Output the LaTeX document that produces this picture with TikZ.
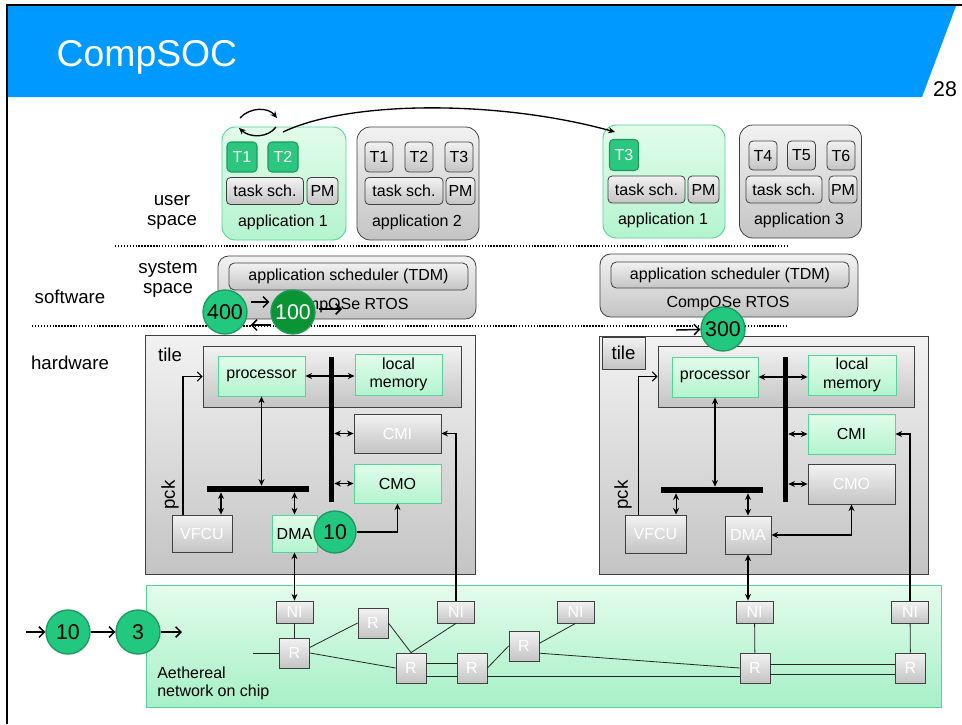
\documentclass[tikz,border=0pt]{standalone}
\usepackage{fontspec}
\setmainfont{Liberation Sans}
\usetikzlibrary{arrows.meta,calc}

\definecolor{slideblue}{HTML}{0099FF}
\definecolor{greentop}{HTML}{E2FCEA}
\definecolor{greenbot}{HTML}{B4F4CF}
\definecolor{noctop}{HTML}{E4FCEC}
\definecolor{nocbot}{HTML}{A6F0C6}
\definecolor{linegreen}{HTML}{55D398}
\definecolor{graytop}{HTML}{F2F2F2}
\definecolor{graybot}{HTML}{C4C4C4}
\definecolor{taskgreen}{HTML}{2BC77E}
\definecolor{taskline}{HTML}{1E9960}
\definecolor{circgreen}{HTML}{22C87F}
\definecolor{circline}{HTML}{1D9A5E}
\definecolor{darkgreen}{HTML}{0B9433}

\tikzset{
  sz/.style 2 args={minimum width=#1*0.75pt, minimum height=#2*0.75pt, inner sep=0pt},
  grnbox/.style={draw=linegreen, line width=0.7pt, top color=greentop, bottom color=greenbot},
  grybox/.style={draw=black!75, line width=0.6pt, top color=graytop, bottom color=graybot},
  pale/.style={grybox, text=white},
  task/.style={draw=taskline, fill=taskgreen, text=white, rounded corners=3pt, line width=0.8pt},
  gtask/.style={grybox, rounded corners=3pt},
  app/.style={rounded corners=10pt, line width=0.8pt},
  circ/.style={circle, draw=circline, fill=circgreen, line width=1pt, minimum size=33pt,
    inner sep=0pt, font=\fontsize{16}{18}\selectfont},
  bar/.style={fill=black, inner sep=0pt},
  hw/.style={{Stealth[length=5pt,width=4.5pt]}-{Stealth[length=5pt,width=4.5pt]}, line width=0.8pt},
  hwa/.style={-{Stealth[length=5pt,width=4.5pt]}, line width=0.8pt},
  pckarrow/.style={-{Straight Barb[length=3.5pt,width=7pt]}, line width=0.8pt},
  flow/.style={-{Straight Barb[length=4pt,width=8pt]}, line width=1.1pt},
  lbl/.style={font=\fontsize{14}{15}\selectfont, align=center},
  link/.style={line width=0.6pt, draw=black!85},
  sep/.style={line width=1.1pt, dash pattern=on 1.1pt off 1.1pt},
}

\begin{document}
\begin{tikzpicture}[x=0.75pt, y=-0.75pt, every node/.style={font=\fontsize{12}{14}\selectfont}]
  \useasboundingbox (0,0) rectangle (962,724);
  \fill[white] (0,0) rectangle (962,724);

  % slide frame and title bar
  \fill[slideblue] (8,6) -- (956,6) -- (922,97) -- (8,97) -- cycle;
  \draw[line width=1.5pt] (6.5,724) -- (6.5,5) -- (962,5);
  \node[anchor=west, text=white, font=\fontsize{28}{30}\selectfont] (title) at (52,57) {CompSOC};
  \node[font=\fontsize{16}{18}\selectfont] (pgno) at (945,89) {28};

  % layers
  \node[lbl] (usrlbl) at (172,212) {user\\space};
  \node[lbl] (syslbl) at (168,279) {system\\space};
  \node[lbl] (swlbl) at (70,297) {software};
  \node[lbl] (hwlbl) at (70,363) {hardware};
  \draw[sep] (115,246) -- (788,246);
  \draw[sep] (32,326) -- (786,326);

  % applications
  \node[app, grnbox, sz={124}{113}] (appA) at (284,183.5) {};
  \node[task, sz={30}{30}] (tA1) at (242,157) {T1};
  \node[task, sz={30}{30}] (tA2) at (283,157) {T2};
  \node[gtask, sz={77}{27}] (schA) at (265,191) {task sch.};
  \node[gtask, sz={31}{27}] (pmA) at (322.5,191) {PM};
  \node (lblA) at (283,222) {application 1};

  \node[app, grybox, sz={122}{113}] (appB) at (418,183.5) {};
  \foreach \t/\x in {1/379, 2/419, 3/459}
    \node[gtask, sz={28}{30}] (tB\t) at (\x,157) {T\t};
  \node[gtask, sz={78}{27}] (schB) at (404,191) {task sch.};
  \node[gtask, sz={29}{27}] (pmB) at (460.5,191) {PM};
  \node (lblB) at (417,222) {application 2};

  \node[app, grnbox, sz={122}{113}] (appC) at (664,181.5) {};
  \node[task, sz={29}{31}] (tC3) at (624,155) {T3};
  \node[gtask, sz={77}{27}] (schC) at (646.5,189.5) {task sch.};
  \node[gtask, sz={31}{27}] (pmC) at (703.5,189.5) {PM};
  \node (lblC) at (663,220) {application 1};

  \node[app, grybox, sz={122}{113}] (appD) at (800.5,181.5) {};
  \foreach \t/\x in {4/763, 5/801.5, 6/841}
    \node[gtask, sz={28}{29}] (tD\t) at (\x,155.5) {T\t};
  \node[gtask, sz={76}{27}] (schD) at (784,189.5) {task sch.};
  \node[gtask, sz={28}{27}] (pmD) at (843,189.5) {PM};
  \node (lblD) at (799,220) {application 3};

  % task swap and migration
  \coordinate (swL) at (240,118); \coordinate (swR) at (277,118);
  \coordinate (swR2) at (276,127); \coordinate (swL2) at (239,128);
  \draw[hwa, line width=1pt] (swL) .. controls (250,107) and (268,107) .. (swR);
  \draw[hwa, line width=1pt] (swR2) .. controls (268,138) and (250,138) .. (swL2);
  \coordinate (migS) at (283,132); \coordinate (migE) at (615,132);
  \draw[hwa, line width=1pt] (migS) .. controls (350,100) and (500,100) .. (migE);

  % RTOS
  \node[grybox, rounded corners=8pt, sz={258}{63}] (rtosL) at (347,287.5) {};
  \node[grybox, rounded corners=4pt, sz={239}{27}] (tdmL) at (348.5,276.5) {application scheduler (TDM)};
  \node (osL) at (347,306) {CompOSe RTOS};
  \node[grybox, rounded corners=8pt, sz={258}{63}] (rtosR) at (729,285.5) {};
  \node[grybox, rounded corners=4pt, sz={238}{26}] (tdmR) at (730,275) {application scheduler (TDM)};
  \node (osR) at (728,304) {CompOSe RTOS};

  % left tile
  \node[grybox, sz={330}{239}] (pckL) at (310,454.5) {};
  \node[lbl] (tileLlbl) at (170,355) {tile};
  \node[lbl, rotate=90] (pckLlbl) at (170,495) {pck};
  \node[grybox, sz={258}{61}] (tileL) at (332,376.5) {};
  \node[grnbox, sz={87}{40}] (procL) at (261.5,376) {processor};
  \node[grnbox, sz={87}{41}, align=center] (memL) at (398.5,374.5) {local\\memory};
  \node[bar, sz={5}{145}] (vbusL) at (331.5,429.5) {};
  \node[bar, sz={102}{6}] (hbusL) at (258,489) {};
  \node[pale, sz={87}{39}] (cmiL) at (397.5,433.5) {CMI};
  \node[grnbox, sz={87}{39}] (cmoL) at (397.5,483.5) {CMO};
  \node[pale, sz={60}{37}] (vfcuL) at (202,533.5) {VFCU};
  \node[grnbox, sz={45}{37}] (dmaL) at (294.5,533.5) {DMA};

  % right tile
  \node[grybox, sz={329}{238}] (pckR) at (763.5,455) {};
  \node[grybox, lbl, sz={43}{32}] (tileRlbl) at (623.5,353) {tile};
  \node[lbl, rotate=90] (pckRlbl) at (623,495) {pck};
  \node[grybox, sz={256}{61}] (tileR) at (786,376.5) {};
  \node[grnbox, sz={86}{40}] (procR) at (715,377) {processor};
  \node[grnbox, sz={88}{40}, align=center] (memR) at (852,375) {local\\memory};
  \node[bar, sz={5}{145}] (vbusR) at (785.5,429.5) {};
  \node[bar, sz={102}{6}] (hbusR) at (712,490) {};
  \node[grnbox, sz={87}{40}] (cmiR) at (851.5,434) {CMI};
  \node[pale, sz={87}{40}] (cmoR) at (851.5,484) {CMO};
  \node[pale, sz={61}{38}] (vfcuR) at (655.5,534) {VFCU};
  \node[pale, sz={46}{38}] (dmaR) at (748,535) {DMA};

  % network on chip
  \node[grnbox, top color=noctop, bottom color=nocbot, sz={795}{122}] (noc) at (543.5,646) {};
  \node[anchor=west, align=left, inner sep=0pt, font=\fontsize{12}{13.5}\selectfont] (noclbl) at (157,683) {Aethereal\\network on chip};
  \foreach \n/\x in {ni1/294.5, ni2/456, ni3/575.5, ni4/754.5, ni5/910}
    \node[pale, sz={37}{22}] (\n) at (\x,612) {NI};
  \foreach \n/\x/\y in {r1/294.5/653, r2/373/623, r3/411/668, r4/472/668, r5/524/646, r6/755/668, r7/910.5/668}
    \node[pale, sz={30}{30}] (\n) at (\x,\y) {R};

  % links
  \coordinate (nocin) at (253,653);
  \draw[link] (nocin) -- (r1.west);
  \draw[link] (ni1) -- (r1);
  \draw[link] (r1.20) -- (r2.west);
  \draw[link] (r1.east) -- (r3.west);
  \draw[link] (r2.east) -- (r3.north);
  \draw[link] (ni2.south) -- (r3.north);
  \draw[link] ([yshift=3.75pt]r3.east) -- ([yshift=3.75pt]r4.west);
  \draw[link] ([yshift=-6pt]r3.east) -- ([yshift=-6pt]r4.west);
  \draw[link] ([yshift=-6pt]r4.east) -- ([yshift=-6pt]r6.west);
  \draw[link] (r4.east) -- (r5.west);
  \draw[link] (r5.10) -- (ni3.south);
  \draw[link] (r5.-25) -- (r6.west);
  \draw[link] (ni4) -- (r6);
  \draw[link] (ni5) -- (r7);
  \draw[link] ([yshift=3pt]r6.east) -- ([yshift=3pt]r7.west);
  \draw[link] ([yshift=-4.5pt]r6.east) -- ([yshift=-4.5pt]r7.west);

  % tile connections, left
  \draw[hw] (procL.east) -- (memL.west |- procL.east);
  \draw[hw] (procL.south) -- (procL.south |- hbusL.north);
  \draw[hw] ([xshift=14.25pt]vfcuL.north) -- ([xshift=14.25pt]vfcuL.north |- hbusL.south);
  \draw[hw] (dmaL.north) -- (dmaL.north |- hbusL.south);
  \draw[hw] (cmiL.west -| vbusL.east) -- (cmiL.west);
  \draw[hw] (cmoL.west -| vbusL.east) -- (cmoL.west);
  \draw[pckarrow] ([xshift=-14.25pt]vfcuL.north) |- (tileL.west);
  \draw[hwa] (ni2.north) |- (cmiL.east);
  \draw[hw] (dmaL.south) -- (ni1.north);

  % tile connections, right
  \draw[hw] (procR.east) -- (memR.west |- procR.east);
  \draw[hw] (procR.south) -- (procR.south |- hbusR.north);
  \draw[hw] ([xshift=15.4pt]vfcuR.north) -- ([xshift=15.4pt]vfcuR.north |- hbusR.south);
  \draw[hw] (dmaR.north) -- (dmaR.north |- hbusR.south);
  \draw[hw] (cmiR.west -| vbusR.east) -- (cmiR.west);
  \draw[hw] (cmoR.west -| vbusR.east) -- (cmoR.west);
  \draw[pckarrow] ([xshift=-13.1pt]vfcuR.north) |- (tileR.west);
  \draw[hw] (dmaR.east) -| (cmoR.south);
  \draw[hwa] (ni5.north) |- (cmiR.east);
  \draw[hw] (dmaR.south) -- (dmaR.south |- ni4.north);

  % budgets
  \node[circ] (c400) at (225,312) {400};
  \node[circ, fill=darkgreen, text=white] (c100) at (293,312) {100};
  \draw[flow] ($(c400.east)+(3,-10)$) -- ($(c100.west)+(-1,-10)$);
  \draw[flow] ($(c100.west)+(1,13)$) -- ($(c400.east)+(3,13)$);
  \coordinate (outS) at (342,309);
  \draw[flow] ($(c100.east)+(3,-3)$) -- (outS);
  \coordinate (in300) at (676,330);
  \node[circ] (c300) at (723,329) {300};
  \draw[flow] (in300) -- (c300);
  \node[circ, minimum size=31.5pt] (c10h) at (335,532) {10};
  \draw[hwa] (c10h.east) -| (cmoL.south);

  \coordinate (inN) at (26,632); \coordinate (outN) at (182,632);
  \node[circ] (c10n) at (68,632) {10};
  \node[circ] (c3) at (138,632) {3};
  \draw[flow] (inN) -- (c10n);
  \draw[flow] (c10n) -- (c3);
  \draw[flow] (c3) -- (outN);
\end{tikzpicture}
\end{document}
